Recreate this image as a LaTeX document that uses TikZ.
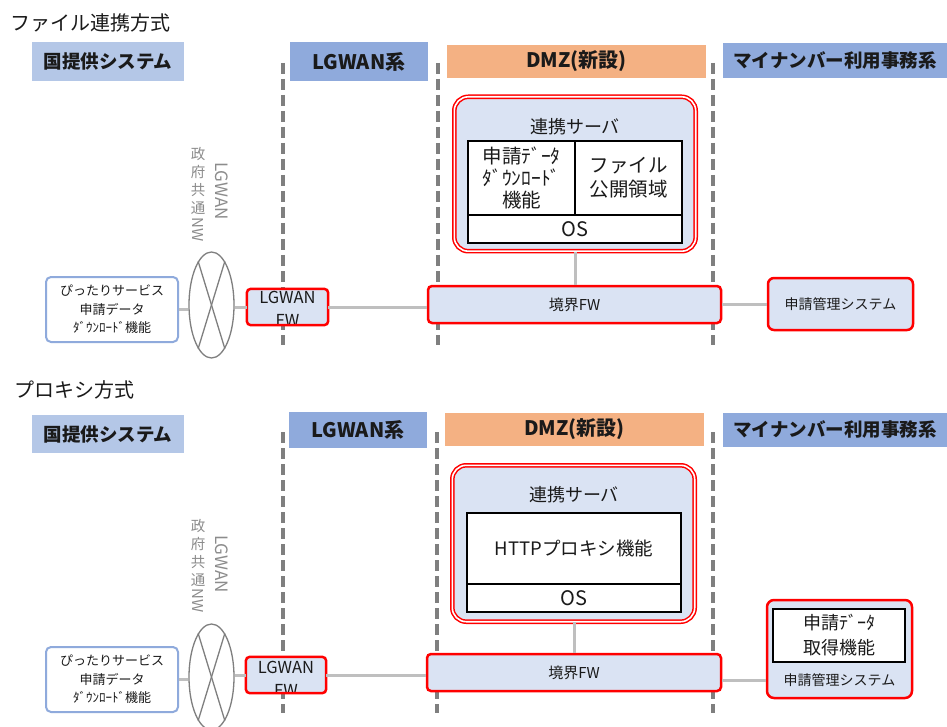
\documentclass[tikz,border=0pt]{standalone}
\usepackage{fontspec}
\setmainfont{Noto Sans CJK JP}
\usetikzlibrary{shapes.geometric}
\definecolor{hdrlight}{HTML}{B4C7E7}
\definecolor{hdrdark}{HTML}{8FAADC}
\definecolor{hdrorange}{HTML}{F4B183}
\definecolor{boxfill}{HTML}{DAE3F3}
\definecolor{redline}{HTML}{FF0000}
\definecolor{dashgray}{HTML}{7F7F7F}
\definecolor{linkgray}{HTML}{BFBFBF}
\definecolor{ellgray}{HTML}{7F7F7F}
\definecolor{vgray}{HTML}{8C8C8C}
\definecolor{pblue}{HTML}{8FAADC}
\definecolor{txt}{HTML}{1A1A1A}
\tikzset{
  hdr/.style={inner sep=0pt, text=txt, font=\bfseries\fontsize{18.5}{20}\selectfont},
  hdrwide/.style={hdr, font=\bfseries\fontsize{20}{22}\selectfont},
  sepline/.style={draw=dashgray, line width=4.5pt, dash pattern=on 11pt off 5pt},
  link/.style={draw=linkgray, line width=3pt},
  redbox/.style={draw=redline, line width=2.5pt, fill=boxfill, rounded corners=4pt, inner sep=0pt, text=txt, align=center},
  redfill/.style={fill=boxfill, rounded corners=4pt, inner sep=0pt},
  srvbox/.style={draw=redline, double=white, double distance=1.6pt, line width=1.5pt, fill=boxfill, rounded corners=14pt, inner sep=0pt},
  cell/.style={draw=black, line width=1.3pt, fill=white, inner sep=0pt, align=center, text=txt},
  pbox/.style={draw=pblue, line width=2pt, fill=white, rounded corners=5pt, inner sep=0pt, align=center, text=txt, font=\fontsize{13}{18.5}\selectfont},
  xell/.style={ellipse, draw=ellgray, line width=1.3pt, inner sep=0pt, minimum width=45pt, minimum height=106pt},
  xline/.style={draw=ellgray, line width=1.3pt},
  vtxt/.style={text=vgray, inner sep=0pt},
  ttl/.style={anchor=west, inner sep=0pt, text=txt, font=\fontsize{20}{24}\selectfont},
  plain/.style={inner sep=0pt, text=txt, align=center},
}
\begin{document}
\begin{tikzpicture}[x=1pt,y=-1pt]
\useasboundingbox (0,0) rectangle (947,727);
\fill[white] (0,0) rectangle (947,727);

%%%%%%%%%%%%%%%% TOP: file linkage %%%%%%%%%%%%%%%%
\node[ttl] (tA) at (10,23) {ファイル連携方式};

\node[hdr, fill=hdrlight, minimum width=152pt, minimum height=39pt] (h1A) at (108,61.5) {国提供システム};
\node[hdrwide, fill=hdrdark, minimum width=138pt, minimum height=39pt] (h2A) at (359,61.5) {LGWAN系};
\node[hdrwide, fill=hdrorange, minimum width=259pt, minimum height=33pt] (h3A) at (576.5,61.5) {DMZ(新設)};
\node[hdr, fill=hdrdark, minimum width=224pt, minimum height=35pt] (h4A) at (835,60.5) {マイナンバー利用事務系};

\draw[sepline] (283,63) -- (283,345);
\draw[sepline] (438,63) -- (438,345);
\draw[sepline] (713,63) -- (713,345);

% server
\node[srvbox, minimum width=241.4pt, minimum height=154.4pt] (srvA) at (575,174) {};
\node[plain, font=\fontsize{18}{20}\selectfont] (srvAt) at (575,127) {連携サーバ};
\node[cell, minimum width=107pt, minimum height=74pt, font=\fontsize{19.5}{22}\selectfont] (cA1) at (521.5,178) {申請ﾃﾞｰﾀ\\ﾀﾞｳﾝﾛｰﾄﾞ\\機能};
\node[cell, minimum width=107pt, minimum height=74pt, font=\fontsize{19.5}{24}\selectfont] (cA2) at (628.5,178) {ファイル\\公開領域};
\node[cell, minimum width=214pt, minimum height=28pt, font=\fontsize{20}{22}\selectfont] (osA) at (575,229) {OS};

% boundary FW
\node[redbox, minimum width=293pt, minimum height=37pt, font=\fontsize{15}{18}\selectfont] (fwA) at (574.5,304.5) {境界FW};
\draw[link] (srvA.south -| osA.south) -- (osA.south |- fwA.north);

% LGWAN FW
\node[redfill, minimum width=81pt, minimum height=36pt] (lgfwA) at (287.5,307) {};
\begin{scope}
\clip (lgfwA.south west) rectangle (lgfwA.north east);
\node[plain, font=\fontsize{16.5}{23}\selectfont] (lgfwAt) at (287.5,308.5) {LGWAN\\FW};
\end{scope}
\draw[redline, line width=2.5pt, rounded corners=4pt] (lgfwA.south west) rectangle (lgfwA.north east);

% apply management system
\node[redbox, rounded corners=6pt, minimum width=145pt, minimum height=52pt, font=\fontsize{14}{16}\selectfont] (sysA) at (840.5,304) {申請管理システム};

% pittari service
\node[pbox, minimum width=132pt, minimum height=65pt] (pA) at (112,309.5) {ぴったりサービス\\申請データ\\ﾀﾞｳﾝﾛｰﾄﾞ機能};

% LGWAN network
\node[xell] (elA) at (211.5,305) {};
\draw[xline] (elA.107) -- (elA.-73);
\draw[xline] (elA.73) -- (elA.-107);
\node[vtxt, rotate=-90, font=\fontsize{17}{20}\selectfont] (vA1) at (222,191) {LGWAN};
\node[vtxt, align=center, font=\fontsize{14.5}{18}\selectfont] (vA2) at (198,181) {政\\府\\共\\通};
\node[vtxt, rotate=-90, font=\fontsize{15}{18}\selectfont] (vA3) at (198,230) {NW};

% connectors
\draw[link] (pA.east) -- (pA.east -| elA.west);
\draw[link] (elA.east |- lgfwA.west) -- (lgfwA.west);
\draw[link] (lgfwA.east) -- (lgfwA.east -| fwA.west);
\draw[link] (fwA.east |- sysA.west) -- (sysA.west);

%%%%%%%%%%%%%%%% BOTTOM: proxy %%%%%%%%%%%%%%%%
\node[ttl] (tB) at (14,390) {プロキシ方式};

\node[hdr, fill=hdrlight, minimum width=152pt, minimum height=38pt] (h1B) at (108,434) {国提供システム};
\node[hdrwide, fill=hdrdark, minimum width=138pt, minimum height=36pt] (h2B) at (358,430) {LGWAN系};
\node[hdrwide, fill=hdrorange, minimum width=259pt, minimum height=33pt] (h3B) at (574.5,429.5) {DMZ(新設)};
\node[hdr, fill=hdrdark, minimum width=225pt, minimum height=34pt] (h4B) at (835,429.5) {マイナンバー利用事務系};

\draw[sepline] (283,432) -- (283,713);
\draw[sepline] (437,432) -- (437,713);
\draw[sepline] (713,432) -- (713,713);

% server
\node[srvbox, minimum width=242.4pt, minimum height=156.4pt] (srvB) at (573.5,543.5) {};
\node[plain, font=\fontsize{18}{20}\selectfont] (srvBt) at (574,495) {連携サーバ};
\node[cell, minimum width=214pt, minimum height=71pt, font=\fontsize{18.5}{22}\selectfont] (cB1) at (574,548.5) {HTTPプロキシ機能};
\node[cell, minimum width=214pt, minimum height=28pt, font=\fontsize{20}{22}\selectfont] (osB) at (574,598) {OS};

% boundary FW
\node[redbox, minimum width=294pt, minimum height=37pt, font=\fontsize{15}{18}\selectfont] (fwB) at (574,672.5) {境界FW};
\draw[link] (srvB.south -| osB.south) -- (osB.south |- fwB.north);

% LGWAN FW
\node[redfill, minimum width=80pt, minimum height=36pt] (lgfwB) at (286,675) {};
\begin{scope}
\clip (lgfwB.south west) rectangle (lgfwB.north east);
\node[plain, font=\fontsize{16.5}{23}\selectfont] (lgfwBt) at (286,678.5) {LGWAN\\FW};
\end{scope}
\draw[redline, line width=2.5pt, rounded corners=4pt] (lgfwB.south west) rectangle (lgfwB.north east);

% apply management system with acquisition function
\node[redbox, rounded corners=7pt, minimum width=145pt, minimum height=98pt] (sysB) at (839.5,649) {};
\node[cell, minimum width=132pt, minimum height=53pt, font=\fontsize{18}{25}\selectfont] (sysBin) at (839,635.5) {申請ﾃﾞｰﾀ\\取得機能};
\node[plain, font=\fontsize{14}{16}\selectfont] (sysBl) at (839.5,680) {申請管理システム};

% pittari service
\node[pbox, minimum width=132pt, minimum height=65pt] (pB) at (112,679.5) {ぴったりサービス\\申請データ\\ﾀﾞｳﾝﾛｰﾄﾞ機能};

% LGWAN network
\node[xell] (elB) at (211.5,677) {};
\draw[xline] (elB.107) -- (elB.-73);
\draw[xline] (elB.73) -- (elB.-107);
\node[vtxt, rotate=-90, font=\fontsize{17}{20}\selectfont] (vB1) at (222,564) {LGWAN};
\node[vtxt, align=center, font=\fontsize{14.5}{18}\selectfont] (vB2) at (198,553) {政\\府\\共\\通};
\node[vtxt, rotate=-90, font=\fontsize{15}{18}\selectfont] (vB3) at (198,601) {NW};

% connectors
\draw[link] (pB.east) -- (pB.east -| elB.west);
\draw[link] (elB.east |- lgfwB.west) -- (lgfwB.west);
\draw[link] (lgfwB.east) -- (lgfwB.east -| fwB.west);
\draw[link] (fwB.east |- sysBl) -- (sysB.west |- sysBl);
\end{tikzpicture}
\end{document}
